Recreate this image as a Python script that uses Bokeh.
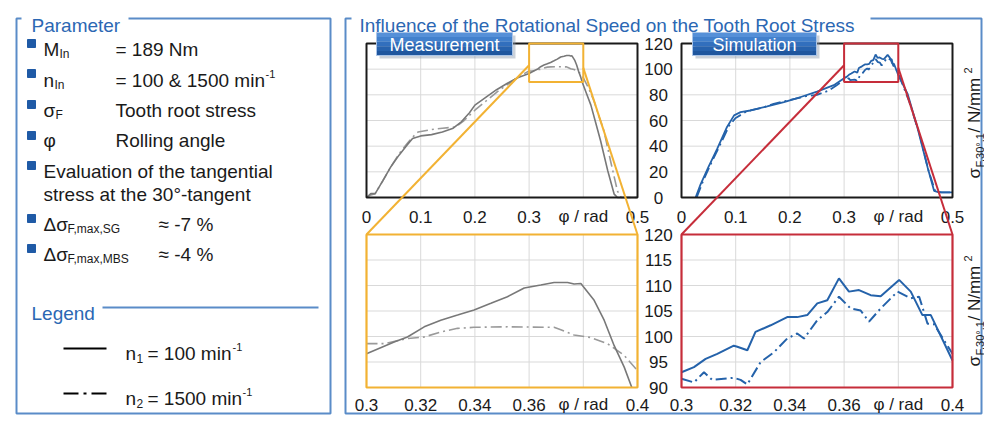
import math
from bokeh.plotting import figure
from bokeh.models import Range1d
from bokeh.core.properties import value
from bokeh.embed import file_html
from bokeh.resources import INLINE

# ---------------------------------------------------------------- data
# Measurement, n1 = 100 min^-1 (solid)
MEAS_N1_X = [0.0, 0.008, 0.016, 0.03, 0.045, 0.06, 0.075, 0.085, 0.1, 0.12, 0.14, 0.16, 0.175,
             0.19, 0.2, 0.22, 0.24, 0.26, 0.28, 0.3, 0.3102, 0.3151, 0.3213, 0.3274, 0.3336,
             0.3397, 0.3459, 0.352, 0.3582, 0.3643, 0.3692, 0.3742, 0.3766, 0.3791, 0.384,
             0.3877, 0.3914, 0.3951, 0.3979, 0.405, 0.414, 0.423, 0.432, 0.445, 0.457, 0.463,
             0.48, 0.5]
MEAS_N1_Y = [0, 3, 3, 13, 24, 33, 41, 46, 48, 49, 51, 54, 59, 66, 72, 78, 84, 89, 93.5, 96.6,
             98.9, 99.9, 101.9, 103.2, 104.2, 105.2, 106.5, 107.8, 109.5, 110.1, 110.6, 110.6,
             110.3, 110.4, 107.1, 103.2, 98.2, 94.0, 90.0, 82, 72, 58, 44, 21, 2.6, 0, 0, 0]
# Measurement, n2 = 1500 min^-1 (dash-dot)
MEAS_N2_X = [0.0, 0.008, 0.016, 0.03, 0.045, 0.06, 0.075, 0.085, 0.095, 0.12, 0.14, 0.165, 0.18,
             0.2, 0.22, 0.24, 0.26, 0.28, 0.3, 0.3065, 0.3151, 0.3213, 0.3274, 0.3336, 0.3397,
             0.352, 0.3692, 0.3717, 0.3766, 0.3828, 0.3889, 0.3951, 0.4, 0.41, 0.42, 0.43,
             0.438, 0.45, 0.463, 0.47, 0.5]
MEAS_N2_Y = [0, 2, 3, 13, 24, 34, 42, 47, 51, 53, 54, 55, 60, 68, 75, 82, 88, 94, 98.6, 98.6,
             99.6, 99.9, 100.9, 101.6, 101.8, 101.9, 101.8, 101.3, 100.3, 99.8, 98.6, 96.3,
             93.3, 85, 75, 62, 52, 29, 5, 0, 0]
# Simulation, n1 (solid)
SIM_N1_X = [0.026, 0.035, 0.05, 0.066, 0.084, 0.097, 0.109, 0.127, 0.158, 0.189, 0.22, 0.25,
            0.281, 0.3, 0.3046, 0.3089, 0.3132, 0.3193, 0.3206, 0.3243, 0.3273, 0.3329, 0.339,
            0.3427, 0.3464, 0.3501, 0.3538, 0.3581, 0.3618, 0.3655, 0.3698, 0.3735, 0.3803,
            0.3846, 0.3889, 0.392, 0.4, 0.417, 0.435, 0.454, 0.466, 0.475, 0.5]
SIM_N1_Y = [0, 10, 24, 38, 55, 64, 66.5, 67.8, 71, 74.4, 78.3, 82.5, 87.5, 93.0, 94.0, 95.6,
            96.6, 98.2, 98.0, 97.3, 100.9, 102.2, 103.8, 103.8, 104.2, 106.5, 107.1, 111.4,
            108.8, 109.1, 108.1, 107.9, 111.1, 108.8, 104.2, 104.2, 95.3, 81, 55, 23.5, 5.2,
            4, 4]
# Simulation, n2 (dash-dot)
SIM_N2_X = [0.028, 0.04, 0.055, 0.07, 0.088, 0.1, 0.12, 0.15, 0.17, 0.2, 0.23, 0.25, 0.27,
            0.285, 0.3, 0.3046, 0.3083, 0.3113, 0.3193, 0.3218, 0.3243, 0.3292, 0.3341, 0.339,
            0.3427, 0.3452, 0.3501, 0.3538, 0.3581, 0.3624, 0.3661, 0.3692, 0.3735, 0.3797,
            0.3846, 0.3877, 0.3908, 0.3932, 0.4, 0.42, 0.44, 0.455, 0.468, 0.48, 0.5]
SIM_N2_Y = [0, 13, 27, 40, 56, 62, 67, 70, 73, 76, 79, 80, 83, 87, 91.7, 91.0, 93.0, 91.5,
            91.9, 91.5, 90.6, 95.0, 96.9, 99.6, 100.6, 99.6, 103.2, 104.8, 107.8, 105.5,
            105.1, 102.9, 105.5, 108.8, 107.5, 107.8, 102.5, 102.4, 96.6, 75, 48, 22, 5, 4, 4]

TOP_X_RANGE = (0.0, 0.5)
TOP_Y_RANGE = (0.0, 120.0)
ZOOM_X_RANGE = (0.3, 0.4)
ZOOM_Y_RANGE = (90.0, 120.0)
TOP_X_TICKS = [0.0, 0.1, 0.2, 0.3, 0.4, 0.5]
TOP_X_LABELS = ["0", "0.1", "0.2", "0.3", "φ / rad", "0.5"]
TOP_Y_TICKS = [0, 20, 40, 60, 80, 100, 120]
TOP_Y_LABELS = ["0", "20", "40", "60", "80", "100", "120"]
ZOOM_X_TICKS = [0.3, 0.32, 0.34, 0.36, 0.38, 0.4]
ZOOM_X_LABELS = ["0.3", "0.32", "0.34", "0.36", "φ / rad", "0.4"]
ZOOM_Y_TICKS = [90, 95, 100, 105, 110, 115, 120]
ZOOM_Y_LABELS = ["90", "95", "100", "105", "110", "115", "120"]
CONNECT_Y = (103, 101)   # where the zoom connectors leave the zoom box (left, right)

# ---------------------------------------------------------------- style / layout
FONT = value("Liberation Sans")
TXT = "#1a1a1a"
BLUE_T = "#2b67b3"
BORDER = "#5a8cc8"
GRID = "#d9d9d9"
GRAY_SOLID = "#787878"
GRAY_DASH = "#9a9a9a"
SIM_BLUE = "#2462aa"
ORANGE = "#f2b233"
RED = "#c62d3a"

FX = {"meas": (366, 637), "sim": (681, 952)}
FY = {"top": (197, 43), "zoom": (387, 234)}
BOTTOM = 413

p = figure(width=984, height=415, x_range=Range1d(0, 984), y_range=Range1d(415, 0),
           x_axis_type=None, y_axis_type=None, toolbar_location=None,
           output_backend="svg", min_border=0, outline_line_color=None,
           background_fill_color="white", border_fill_color="white")


def T(r, x, y, s, size, color=TXT, align="left", baseline="alphabetic", angle=0.0):
    r.text(x=[x], y=[y], text=[s], text_font=FONT, text_font_size=f"{size}px",
           text_color=color, text_align=align, text_baseline=baseline, angle=angle)


def to_px(v, src, tgt):
    return tgt[0] + (v - src[0]) * (tgt[1] - tgt[0]) / (src[1] - src[0])


def window(xs, ys, xr, yr):
    pts = [(x, y) for x, y in zip(xs, ys)
           if xr[0] - 1e-9 <= x <= xr[1] + 1e-9 and yr[0] - 1e-9 <= y <= yr[1] + 1e-9]
    return [a for a, _ in pts], [b for _, b in pts]


def chart(xr, yr, fx, fy, xticks, xlabels, yticks, frame_color, frame_width, series, xlab_y):
    main = p.subplot(x_source=Range1d(*xr), y_source=Range1d(*yr),
                     x_target=Range1d(*fx), y_target=Range1d(*fy))
    gx = [t for t in xticks if xr[0] < t < xr[1]]
    gy = [t for t in yticks if yr[0] < t < yr[1]]
    main.segment(x0=gx, y0=[yr[0]] * len(gx), x1=gx, y1=[yr[1]] * len(gx),
                 line_color=GRID, line_width=1)
    main.segment(x0=[xr[0]] * len(gy), y0=gy, x1=[xr[1]] * len(gy), y1=gy,
                 line_color=GRID, line_width=1)
    for xs, ys, color, dash, lw in series:
        main.line(xs, ys, line_color=color, line_dash=dash, line_width=lw)
    main.quad(left=[xr[0]], right=[xr[1]], bottom=[yr[0]], top=[yr[1]],
              fill_alpha=0, line_color=frame_color, line_width=frame_width)
    xl = p.subplot(x_source=Range1d(*xr), y_source=Range1d(0, 1),
                   x_target=Range1d(*fx), y_target=Range1d(0, 1))
    xl.text(x=xticks, y=[xlab_y] * len(xticks), text=xlabels, text_font=FONT,
            text_font_size="17px", text_color=TXT, text_align="center",
            text_baseline="middle")
    return main


def ylabels(yr, fy, ticks, labels, x_px):
    yl = p.subplot(x_source=Range1d(0, 1), y_source=Range1d(*yr),
                   x_target=Range1d(0, 1), y_target=Range1d(*fy))
    yl.text(x=[x_px] * len(ticks), y=ticks, text=labels, text_font=FONT,
            text_font_size="17px", text_color=TXT, text_align="center",
            text_baseline="middle")


# ---------------------------------------------------------------- panel borders
p.line([21, 16, 16, 330, 330, 128], [18, 18, BOTTOM, BOTTOM, 18, 18],
       line_color=BORDER, line_width=2)
p.line([351, 345, 345, 981, 981, 870], [18, 18, BOTTOM, BOTTOM, 18, 18],
       line_color=BORDER, line_width=2)
T(p, 31, 25, "Parameter", 19, BLUE_T)
T(p, 359, 25, "Influence of the Rotational Speed on the Tooth Root Stress", 19, BLUE_T)

# ---------------------------------------------------------------- left panel
p.scatter(x=[31] * 7, y=[43, 73, 104, 135, 165, 218, 248], marker="square", size=8,
          fill_color="#1f5aa6", line_color="#1f5aa6")
T(p, 43, 49, "M", 19); T(p, 59, 53, "In", 12); T(p, 115, 49, "= 189 Nm", 19)
T(p, 43, 80, "n", 19); T(p, 54, 84, "In", 12); T(p, 115, 80, "= 100 & 1500 min", 19)
T(p, 265, 73, "-1", 11)
T(p, 43, 110, "σ", 19); T(p, 55, 114, "F", 12); T(p, 115, 110, "Tooth root stress", 19)
T(p, 43, 140, "φ", 19); T(p, 115, 140, "Rolling angle", 19)
T(p, 43, 171, "Evaluation of the tangential", 19)
T(p, 43, 194, "stress at the 30°-tangent", 19)
T(p, 43, 224, "Δσ", 19); T(p, 67, 228, "F,max,SG", 12); T(p, 158, 224, "≈  -7 %", 19)
T(p, 43, 254, "Δσ", 19); T(p, 67, 258, "F,max,MBS", 12); T(p, 158, 254, "≈  -4 %", 19)

T(p, 31, 313, "Legend", 19, BLUE_T)
p.line([102, 318], [307, 307], line_color=BORDER, line_width=2)
p.line([63, 106], [348, 348], line_color="black", line_width=2)
T(p, 125, 353, "n", 19); T(p, 136, 358, "1", 12); T(p, 147, 353, "= 100 min", 19)
T(p, 232, 346, "-1", 11)
p.line([63, 106], [393, 393], line_color="black", line_width=2, line_dash="15 5 3 5")
T(p, 125, 398, "n", 19); T(p, 136, 403, "2", 12); T(p, 147, 398, "= 1500 min", 19)
T(p, 242, 391, "-1", 11)

# ---------------------------------------------------------------- charts
DASH = "11 4 2 4"
meas_top = chart(TOP_X_RANGE, TOP_Y_RANGE, FX["meas"], FY["top"], TOP_X_TICKS, TOP_X_LABELS,
                 TOP_Y_TICKS, "#1a1a1a", 2,
                 [(MEAS_N2_X, MEAS_N2_Y, GRAY_DASH, DASH, 1.6),
                  (MEAS_N1_X, MEAS_N1_Y, GRAY_SOLID, "solid", 1.6)], 216)
sim_top = chart(TOP_X_RANGE, TOP_Y_RANGE, FX["sim"], FY["top"], TOP_X_TICKS, TOP_X_LABELS,
                TOP_Y_TICKS, "#1a1a1a", 2,
                [(SIM_N2_X, SIM_N2_Y, SIM_BLUE, DASH, 1.8),
                 (SIM_N1_X, SIM_N1_Y, SIM_BLUE, "solid", 1.8)], 216)

mz1 = window(MEAS_N1_X, MEAS_N1_Y, ZOOM_X_RANGE, ZOOM_Y_RANGE)
mz2 = window(MEAS_N2_X, MEAS_N2_Y, ZOOM_X_RANGE, ZOOM_Y_RANGE)
sz1 = window(SIM_N1_X, SIM_N1_Y, ZOOM_X_RANGE, ZOOM_Y_RANGE)
sz2 = window(SIM_N2_X, SIM_N2_Y, ZOOM_X_RANGE, ZOOM_Y_RANGE)
chart(ZOOM_X_RANGE, ZOOM_Y_RANGE, FX["meas"], FY["zoom"], ZOOM_X_TICKS, ZOOM_X_LABELS,
      ZOOM_Y_TICKS, ORANGE, 2.2,
      [(mz2[0], mz2[1], GRAY_DASH, DASH, 1.6),
       (mz1[0], mz1[1], GRAY_SOLID, "solid", 1.6)], 404)
chart(ZOOM_X_RANGE, ZOOM_Y_RANGE, FX["sim"], FY["zoom"], ZOOM_X_TICKS, ZOOM_X_LABELS,
      ZOOM_Y_TICKS, RED, 2.2,
      [(sz2[0], sz2[1], SIM_BLUE, DASH, 2),
       (sz1[0], sz1[1], SIM_BLUE, "solid", 2)], 404)

ylabels(TOP_Y_RANGE, FY["top"], TOP_Y_TICKS, TOP_Y_LABELS, 658)
ylabels(ZOOM_Y_RANGE, FY["zoom"], ZOOM_Y_TICKS, ZOOM_Y_LABELS, 658)

# zoom boxes + connectors
for top, key, col in ((meas_top, "meas", ORANGE), (sim_top, "sim", RED)):
    top.quad(left=[ZOOM_X_RANGE[0]], right=[ZOOM_X_RANGE[1]], bottom=[ZOOM_Y_RANGE[0]],
             top=[ZOOM_Y_RANGE[1]], fill_alpha=0, line_color=col, line_width=2)
    fx = FX[key]
    x_l = to_px(ZOOM_X_RANGE[0], TOP_X_RANGE, fx)
    x_r = to_px(ZOOM_X_RANGE[1], TOP_X_RANGE, fx)
    y_l = to_px(CONNECT_Y[0], TOP_Y_RANGE, FY["top"])
    y_r = to_px(CONNECT_Y[1], TOP_Y_RANGE, FY["top"])
    p.segment(x0=[x_l, x_r], y0=[y_l, y_r], x1=[fx[0], fx[1]],
              y1=[FY["zoom"][1], FY["zoom"][1]], line_color=col, line_width=2)

# right axis titles (rotated)
for ys in (178, 366):
    T(p, 974, ys, "σ", 17, angle=math.pi / 2)
    T(p, 979, ys - 11, "F,30°,1", 11, angle=math.pi / 2)
    T(p, 974, ys - 46, " / N/mm", 17, angle=math.pi / 2)
    T(p, 967, ys - 105, "2", 11, angle=math.pi / 2)

# label boxes
def label_box(x0, x1, y0, y1, s):
    p.quad(left=[x0 + 3], right=[x1 + 3], top=[y0 + 3], bottom=[y1 + 3],
           fill_color="#8c98aa", fill_alpha=0.45, line_color=None)
    cols = ["#5690d8", "#4280cc", "#326fbd", "#2762ad", "#1f569e"]
    h = (y1 - y0) / len(cols)
    for i, c in enumerate(cols):
        p.quad(left=[x0], right=[x1], top=[y0 + i * h], bottom=[y0 + (i + 1) * h],
               fill_color=c, line_color=None)
    p.quad(left=[x0], right=[x1], top=[y0], bottom=[y1], fill_alpha=0,
           line_color="#a9c4e8", line_width=1)
    T(p, (x0 + x1) / 2, (y0 + y1) / 2 + 1, s, 18, "white", align="center", baseline="middle")


label_box(376, 512, 32, 55, "Measurement")
label_box(692, 816, 32, 55, "Simulation")

open("out.html", "w").write(file_html(p, INLINE))
